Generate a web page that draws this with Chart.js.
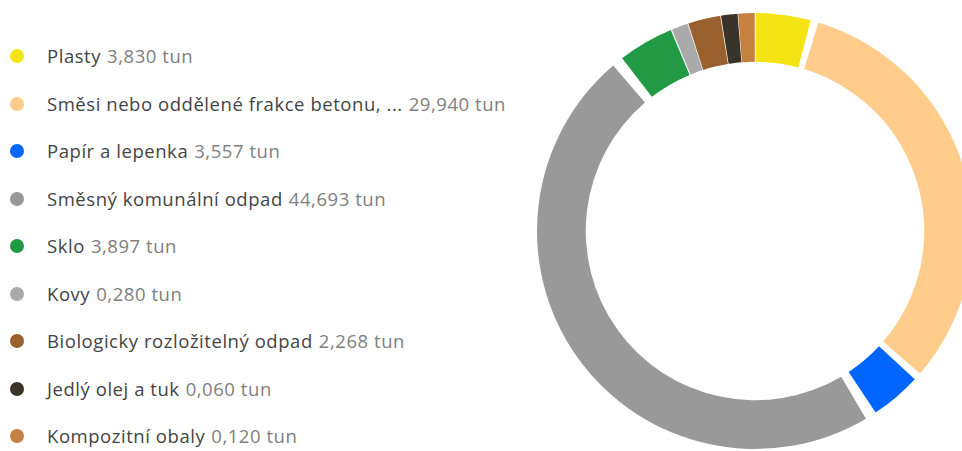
<!DOCTYPE html>
<html>
<head>
<meta charset="utf-8">
<script src="https://cdn.jsdelivr.net/npm/chart.js@4"></script>
<style>
    body { margin: 0; width: 962px; height: 451px; overflow: hidden; background: #fff; position: relative; font-family: 'Open Sans', sans-serif; }
    #legend { position: absolute; left: 0; top: 0; }
    .item { position: absolute; left: 10px; height: 26px; line-height: 26px; white-space: nowrap; font-size: 18.5px; letter-spacing: 0.55px; }
    .dot { position: absolute; left: 0; top: 6px; width: 14px; height: 14px; border-radius: 50%; }
    .name { position: absolute; left: 37px; color: #444; }
    .val { color: #808080; margin-left: 6px; }
    #wrap { position: absolute; left: 537px; top: 13px; width: 436px; height: 436px; }
</style>
</head>
<body>
<div id="legend"></div>
<div id="wrap"><canvas id="donut"></canvas></div>
<script>
// data
const categories = ['Plasty', 'Směsi nebo oddělené frakce betonu, ...', 'Papír a lepenka', 'Směsný komunální odpad', 'Sklo', 'Kovy', 'Biologicky rozložitelný odpad', 'Jedlý olej a tuk', 'Kompozitní obaly'];
const values = [3.830, 29.940, 3.557, 44.693, 3.897, 0.280, 2.268, 0.060, 0.120];
const valueLabels = ['3,830', '29,940', '3,557', '44,693', '3,897', '0,280', '2,268', '0,060', '0,120'];
const colors = ['#F5E414', '#FFCC8C', '#0066FF', '#999999', '#229944', '#AAAAAA', '#9A612F', '#3A3329', '#C4813F'];

// legend
const legend = document.getElementById('legend');
categories.forEach((c, i) => {
    const row = document.createElement('div');
    row.className = 'item';
    row.style.top = (43 + i * 47.5) + 'px';
    row.innerHTML = '<span class="dot" style="background:' + colors[i] + '"></span>' +
        '<span class="name">' + c + '<span class="val">' + valueLabels[i] + ' tun</span></span>';
    legend.appendChild(row);
});

// tiny slices get a minimum visible share, like the original
const total = values.reduce((a, b) => a + b, 0);
const shown = values.map(v => Math.max(v, total * 0.013));

new Chart(document.getElementById('donut').getContext('2d'), {
    type: 'doughnut',
    data: {
        labels: categories,
        datasets: [{
            data: shown,
            backgroundColor: colors,
            borderWidth: 0,
            spacing: 12,
            hoverOffset: 0
        }]
    },
    options: {
        responsive: true,
        maintainAspectRatio: false,
        animation: false,
        cutout: '77%',
        layout: { padding: 0 },
        plugins: {
            legend: { display: false },
            tooltip: {
                callbacks: {
                    label: function (item) {
                        return valueLabels[item.dataIndex] + ' tun';
                    }
                }
            }
        }
    }
});
</script>
</body>
</html>
